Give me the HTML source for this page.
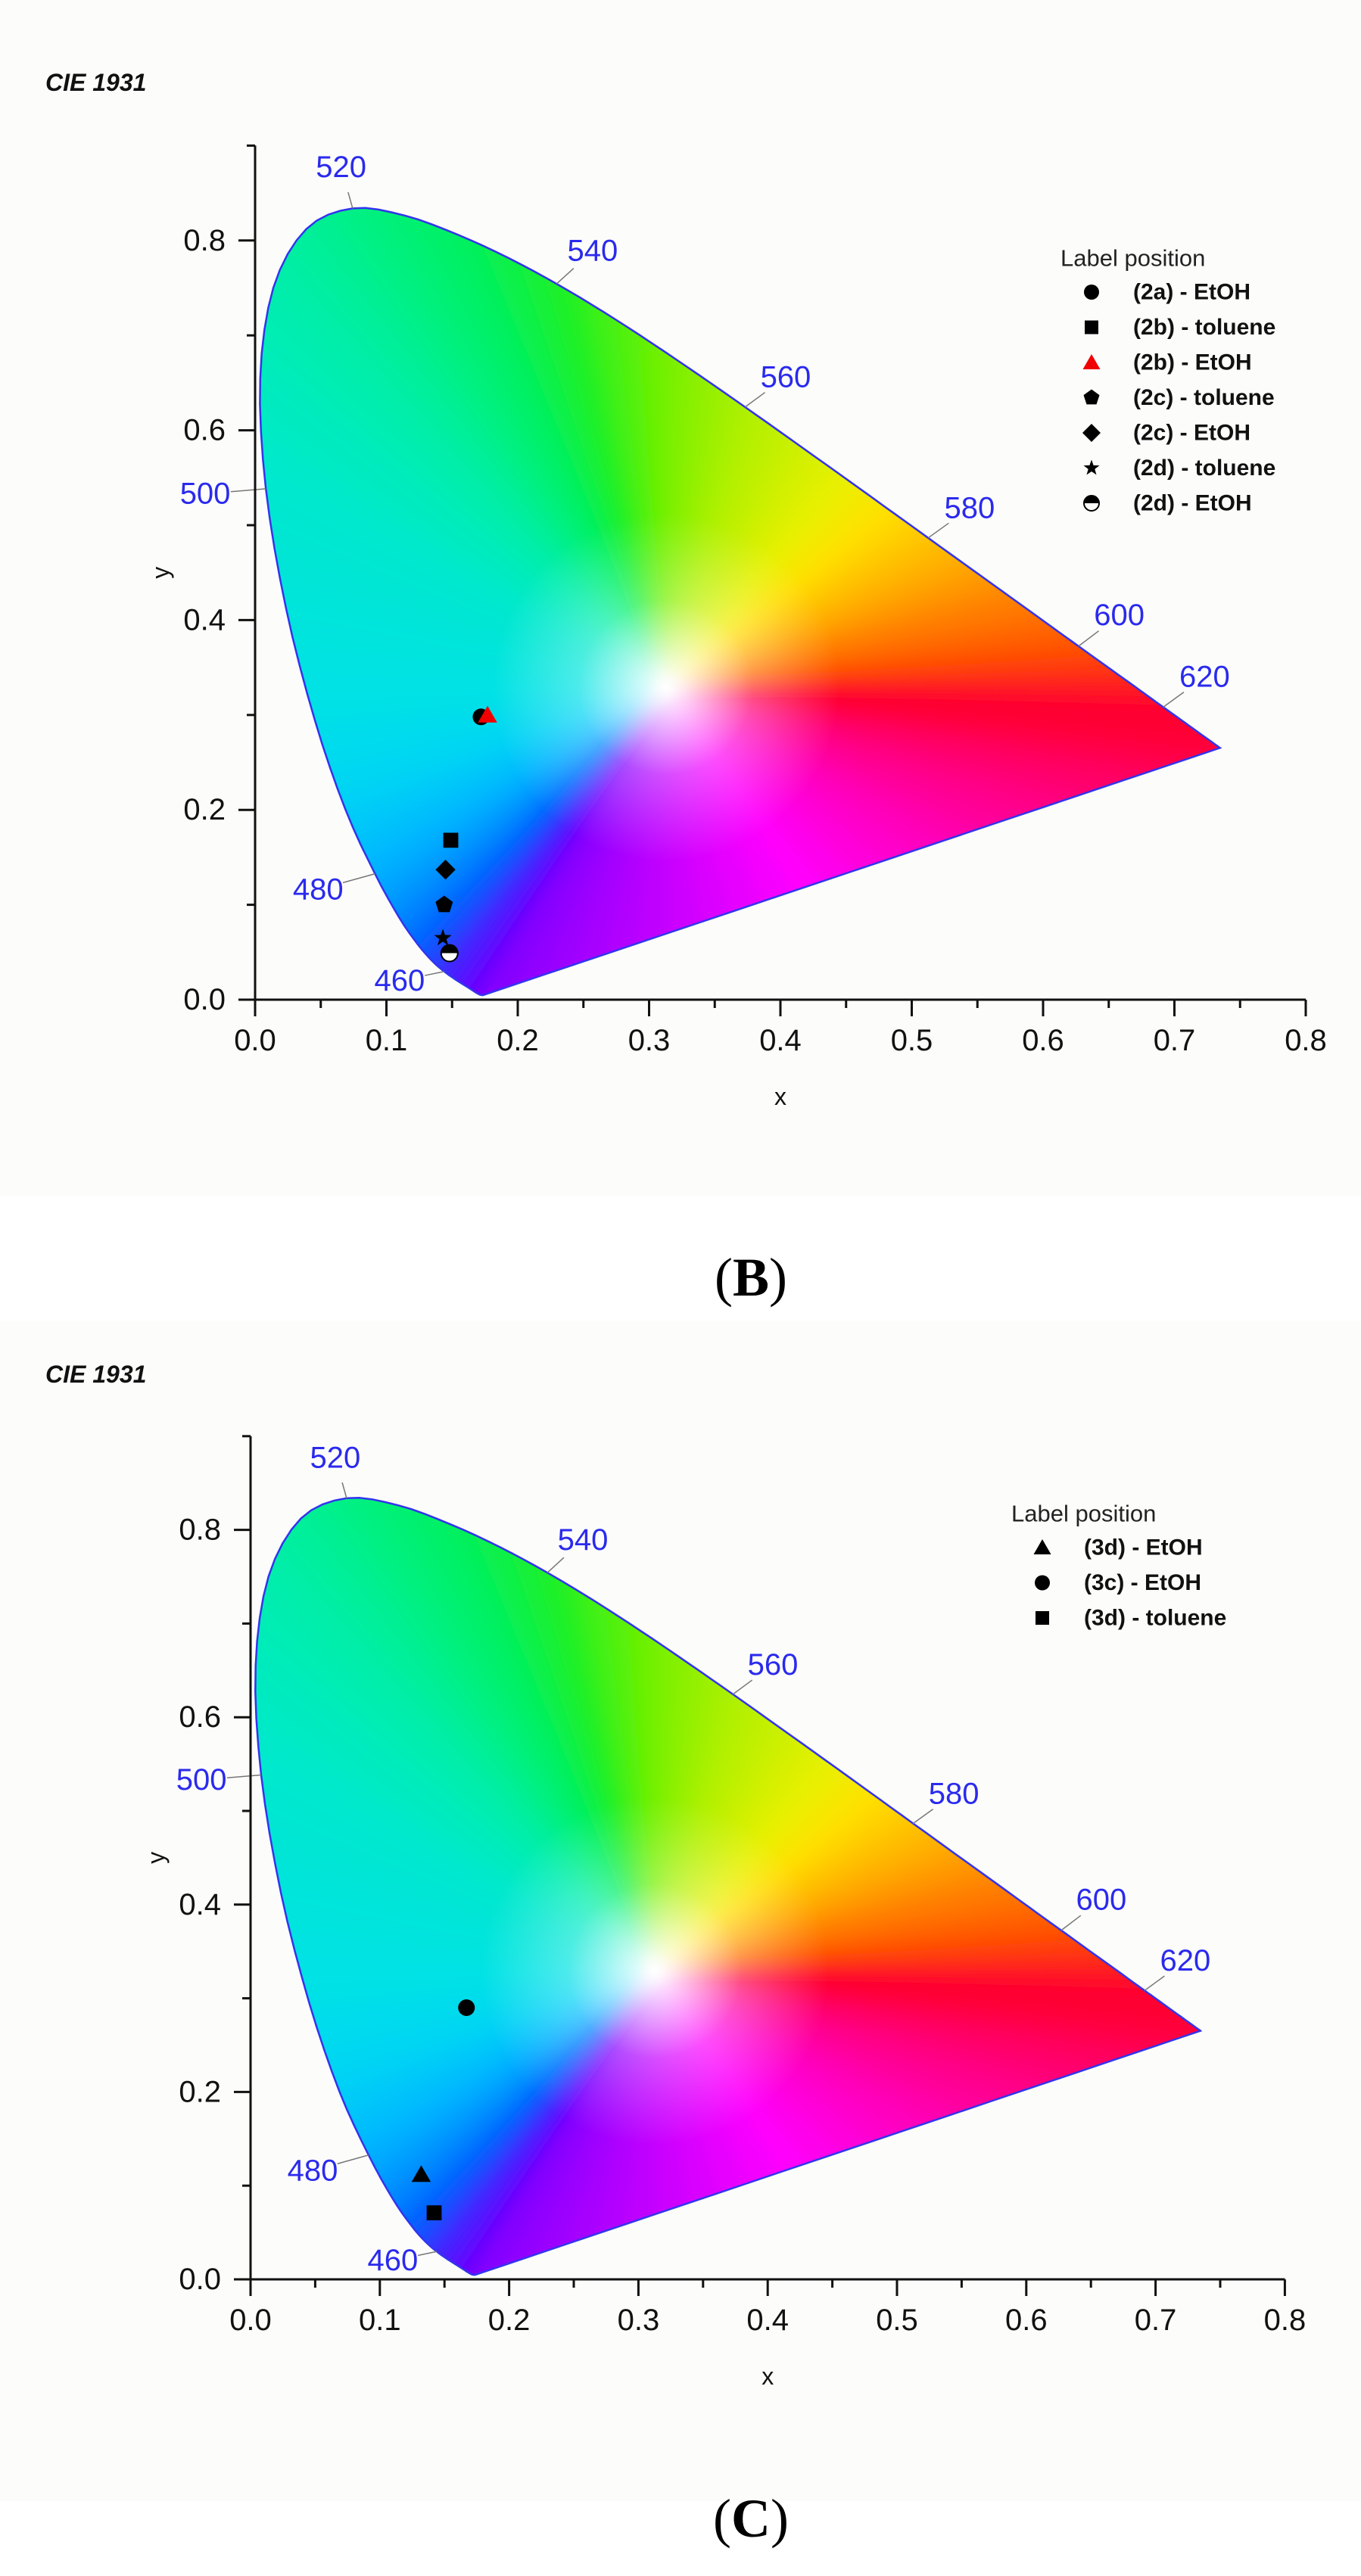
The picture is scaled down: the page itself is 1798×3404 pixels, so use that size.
<!DOCTYPE html>
<html><head><meta charset="utf-8">
<style>
html,body{margin:0;padding:0;background:#fff;}
svg{display:block;}
text{font-family:"Liberation Sans",sans-serif;}
</style></head>
<body>
<svg id="s" width="1798" height="3404" viewBox="0 0 1798 3404" xmlns="http://www.w3.org/2000/svg">
<rect x="0" y="0" width="1798" height="1580" fill="#fcfcfb"/>
<rect x="0" y="1745" width="1798" height="1560" fill="#fcfcfb"/>
<text x="60" y="120" font-size="32" font-weight="bold" font-style="italic" fill="#111">CIE 1931</text>
<text x="60" y="1827" font-size="32" font-weight="bold" font-style="italic" fill="#111">CIE 1931</text>
<text x="992" y="1712" font-size="72" text-anchor="middle" style="font-family:'Liberation Serif',serif" fill="#000">(<tspan font-weight="bold">B</tspan>)</text>
<text x="992" y="3352" font-size="72" text-anchor="middle" style="font-family:'Liberation Serif',serif" fill="#000">(<tspan font-weight="bold">C</tspan>)</text>
</svg>
<script>
(function(){
var NS="http://www.w3.org/2000/svg";
var svg=document.getElementById('s');
function el(tag,attrs,parent,txt){var e=document.createElementNS(NS,tag);for(var k in attrs)e.setAttribute(k,attrs[k]);if(txt!==undefined)e.textContent=txt;(parent||svg).appendChild(e);return e;}
var L=[[380,.1741,.0050],[390,.1738,.0049],[400,.1733,.0048],[410,.1726,.0048],[420,.1714,.0051],[425,.1703,.0058],[430,.1689,.0069],[435,.1669,.0086],[440,.1644,.0109],[445,.1611,.0138],[450,.1566,.0177],[455,.1510,.0227],[460,.1440,.0297],[465,.1355,.0399],[470,.1241,.0578],[475,.1096,.0868],[480,.0913,.1327],[485,.0687,.2007],[490,.0454,.2950],[495,.0235,.4127],[500,.0082,.5384],[505,.0039,.6548],[510,.0139,.7502],[515,.0389,.8120],[520,.0743,.8338],[525,.1142,.8262],[530,.1547,.8059],[535,.1929,.7816],[540,.2296,.7543],[545,.2658,.7243],[550,.3016,.6923],[555,.3373,.6589],[560,.3731,.6245],[565,.4087,.5896],[570,.4441,.5547],[575,.4788,.5202],[580,.5125,.4866],[585,.5448,.4544],[590,.5752,.4242],[595,.6029,.3965],[600,.6270,.3725],[605,.6482,.3514],[610,.6658,.3340],[615,.6801,.3197],[620,.6915,.3083],[625,.7006,.2993],[630,.7079,.2920],[640,.7190,.2809],[650,.7260,.2740],[660,.7300,.2700],[680,.7334,.2666],[700,.7347,.2653]];
var D=[];
for(var i=0;i<L.length-1;i++){var p0=L[Math.max(0,i-1)],p1=L[i],p2=L[i+1],p3=L[Math.min(L.length-1,i+2)];
  for(var s=0;s<4;s++){var t=s/4,t2=t*t,t3=t2*t;
    function cr(k){return 0.5*((2*p1[k])+(-p0[k]+p2[k])*t+(2*p0[k]-5*p1[k]+4*p2[k]-p3[k])*t2+(-p0[k]+3*p1[k]-3*p2[k]+p3[k])*t3);}
    D.push([p1[0]+(p2[0]-p1[0])*t,cr(1),cr(2)]);}}
D.push(L[L.length-1]);
var CS=[[380,[122,0,255]],[440,[106,0,255]],[460,[64,40,255]],[470,[0,100,255]],[475,[0,140,255]],[480,[0,180,255]],[485,[0,210,245]],[490,[0,225,230]],[500,[0,232,205]],[510,[0,238,170]],[520,[0,240,130]],[530,[0,240,95]],[540,[30,240,40]],[550,[110,240,0]],[560,[176,240,0]],[570,[232,240,0]],[575,[255,224,0]],[580,[255,192,0]],[590,[255,128,0]],[600,[255,80,0]],[610,[255,32,32]],[620,[255,0,48]],[700,[255,0,64]]];
var PS=[[0,[255,0,64]],[.3,[255,0,160]],[.55,[255,0,255]],[.8,[176,0,255]],[1,[122,0,255]]];
function interp(st,v){for(var i=0;i<st.length-1;i++){if(v<=st[i+1][0]){var t=(v-st[i][0])/(st[i+1][0]-st[i][0]);var a=st[i][1],b=st[i+1][1];return [0,1,2].map(function(k){return Math.round(a[k]+(b[k]-a[k])*t);});}}return st[st.length-1][1];}
function rgb(c){return 'rgb('+c[0]+','+c[1]+','+c[2]+')';}
var WLAB=[[520,.0655,.877],[540,.257,.789],[560,.404,.656],[580,.544,.518],[600,.658,.405],[620,.723,.340],[500,-.038,.533],[480,.048,.116],[460,.110,.020]];
function find(w){for(var i=0;i<L.length;i++)if(L[i][0]==w)return L[i];}
function panel(id,X0,Y0,SX,SY,legend){
  function X(x){return X0+x*SX;} function Y(y){return Y0-y*SY;}
  var pts=[],cols=[];
  D.forEach(function(p){pts.push([X(p[1]),Y(p[2])]);cols.push(interp(CS,p[0]));});
  var N=24,a=L[L.length-1],b=L[0];
  for(var i=1;i<N;i++){var t=i/N;pts.push([X(a[1]+(b[1]-a[1])*t),Y(a[2]+(b[2]-a[2])*t)]);cols.push(interp(PS,t));}
  var d='M'+pts.map(function(p){return p[0].toFixed(1)+','+p[1].toFixed(1);}).join('L')+'Z';
  var defs=el('defs',{});
  var cp=el('clipPath',{id:'cp'+id},defs);el('path',{d:d},cp);
  var f=el('filter',{id:'bl'+id,x:'-10%',y:'-10%',width:'120%',height:'120%'},defs);
  el('feGaussianBlur',{stdDeviation:'9'},f);
  var rg=el('radialGradient',{id:'rg'+id,cx:X(.3127),cy:Y(.329),r:230,gradientUnits:'userSpaceOnUse'},defs);
  el('stop',{offset:'0','stop-color':'#fff','stop-opacity':'1'},rg);
  el('stop',{offset:'0.15','stop-color':'#fff','stop-opacity':'0.8'},rg);
  el('stop',{offset:'0.5','stop-color':'#fff','stop-opacity':'0.3'},rg);
  el('stop',{offset:'1','stop-color':'#fff','stop-opacity':'0'},rg);
  var outer=el('g',{'clip-path':'url(#cp'+id+')'});
  var g=el('g',{filter:'url(#bl'+id+')'},outer);
  var W=[X(.3127),Y(.329)];
  for(var i=0;i<pts.length;i++){var p=pts[i],q=pts[(i+1)%pts.length];var c=rgb(cols[i]);
    function ext(P){return [W[0]+(P[0]-W[0])*1.15,W[1]+(P[1]-W[1])*1.15];}
    var pe=ext(p),qe=ext(q);
    el('path',{d:'M'+W[0]+','+W[1]+'L'+pe[0]+','+pe[1]+'L'+qe[0]+','+qe[1]+'Z',fill:c,stroke:c,'stroke-width':2},g);}
  el('rect',{x:X0,y:Y0-1200,width:1500,height:1300,fill:'url(#rg'+id+')'},outer);
  el('path',{d:d,fill:'none',stroke:'#3333ee','stroke-width':2.5});
  WLAB.forEach(function(w){var p=find(w[0]);var px=X(p[1]),py=Y(p[2]),lx=X(w[1]),ly=Y(w[2]);
    var dx=lx-px,dy=ly-py,len=Math.sqrt(dx*dx+dy*dy);var k=Math.min(1,Math.max(0,(len-34)/len));
    el('line',{x1:px,y1:py,x2:px+dx*k,y2:py+dy*k,stroke:'#777','stroke-width':1.5});
    el('text',{x:lx,y:ly,'font-size':40,fill:'#2a2aee','text-anchor':'middle','dominant-baseline':'central'},null,String(w[0]));});
  var ax={stroke:'#111','stroke-width':3,fill:'none'};
  el('line',Object.assign({x1:X0,y1:Y(.9),x2:X0,y2:Y0+22},ax));
  el('line',Object.assign({x1:X0-22,y1:Y0,x2:X(.8),y2:Y0},ax));
  for(var i=0;i<=16;i++){var x=X(i*.05);var big=i%2==0;el('line',Object.assign({x1:x,y1:Y0,x2:x,y2:Y0+(big?22:11)},ax));
    if(big)el('text',{x:x,y:Y0+54,'font-size':40,fill:'#111','text-anchor':'middle','dominant-baseline':'central'},null,(i*.05).toFixed(1));}
  for(var i=0;i<=9;i++){var y=Y(i*.1);var big=i%2==0;el('line',Object.assign({x1:X0,y1:y,x2:X0-(big?22:11),y2:y},ax));
    if(big)el('text',{x:X0-39,y:y,'font-size':40,fill:'#111','text-anchor':'end','dominant-baseline':'central'},null,(i*.1).toFixed(1));}
  el('text',{x:X(.4),y:Y0+128,'font-size':32,fill:'#111','text-anchor':'middle','dominant-baseline':'central'},null,'x');
  el('text',{x:0,y:0,'font-size':32,fill:'#111','text-anchor':'middle','dominant-baseline':'central',transform:'translate('+(X0-125)+','+Y(.45)+') rotate(-90)'},null,'y');
  el('text',{x:legend.x,y:legend.y,'font-size':31,fill:'#222','dominant-baseline':'central'},null,'Label position');
  legend.items.forEach(function(it,i){var yy=legend.y+45+i*46.5;marker(it[0],legend.x+41,yy,it[2]||'#000',20);
    el('text',{x:legend.x+96,y:yy,'font-size':30,'font-weight':'bold',fill:'#111','dominant-baseline':'central'},null,it[1]);});
  legend.pts.forEach(function(m){marker(m[0],X(m[1]),Y(m[2]),m[3]||'#000',22);});
}
function marker(t,x,y,c,s){var r=s/2;
  if(t=='c')el('circle',{cx:x,cy:y,r:r,fill:c});
  else if(t=='s')el('rect',{x:x-r*.9,y:y-r*.9,width:r*1.8,height:r*1.8,fill:c});
  else if(t=='t')el('path',{d:'M'+x+','+(y-r*1.1)+'L'+(x+r*1.15)+','+(y+r*.9)+'L'+(x-r*1.15)+','+(y+r*.9)+'Z',fill:c});
  else if(t=='d')el('path',{d:'M'+x+','+(y-r*1.2)+'L'+(x+r*1.2)+','+y+'L'+x+','+(y+r*1.2)+'L'+(x-r*1.2)+','+y+'Z',fill:c});
  else if(t=='p'||t=='st'){var n=t=='p'?5:10,d='';for(var i=0;i<n;i++){var a=-Math.PI/2+i*2*Math.PI/n;var rr=t=='p'?r*1.1:(i%2?r*.45:r*1.1);d+=(i?'L':'M')+(x+rr*Math.cos(a)).toFixed(1)+','+(y+rr*Math.sin(a)).toFixed(1);}el('path',{d:d+'Z',fill:c});}
  else if(t=='h'){el('circle',{cx:x,cy:y,r:r,fill:'#fff',stroke:'#000','stroke-width':2});el('path',{d:'M'+(x-r)+','+y+'A'+r+','+r+' 0 0 1 '+(x+r)+','+y+'Z',fill:'#000'});}
}
panel('B',337,1321,1735,1254,{x:1401,y:341,items:[['c','(2a) - EtOH'],['s','(2b) - toluene'],['t','(2b) - EtOH','#f00000'],['p','(2c) - toluene'],['d','(2c) - EtOH'],['st','(2d) - toluene'],['h','(2d) - EtOH']],
  pts:[['s',.149,.168],['d',.145,.137],['p',.144,.100],['st',.143,.065],['h',.148,.049],['c',.172,.298],['t',.177,.300,'#f00000']]});
panel('C',331,3012,1708,1238,{x:1336,y:2000,items:[['t','(3d) - EtOH'],['c','(3c) - EtOH'],['s','(3d) - toluene']],
  pts:[['c',.167,.290],['t',.132,.112],['s',.142,.071]]});
})();
</script>
</body></html>
